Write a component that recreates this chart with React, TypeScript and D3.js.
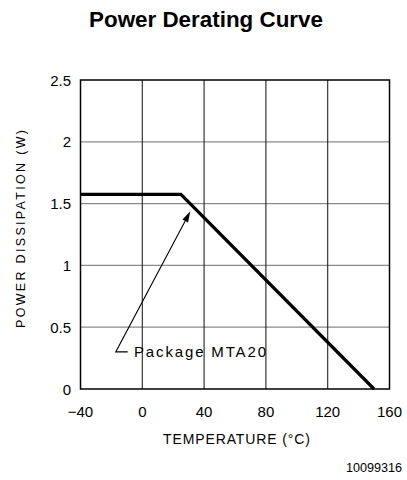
import React from "react";
import * as d3 from "d3";

const xTicks = [-40, 0, 40, 80, 120, 160];
const yTicks = [0, 0.5, 1, 1.5, 2, 2.5];
const yTickLabels = ["0", "0.5", "1", "1.5", "2", "2.5"];
const xTickLabels = ["\u221240", "0", "40", "80", "120", "160"];
const curveTemp = [-40, 25, 150];
const curvePower = [1.575, 1.575, 0];
const annotationText = "Package MTA20";
const arrowFrom = { t: -17.2, p: 0.3 };
const arrowTo = { t: 31.1, p: 1.438 };

export default function App() {
  const W = 407, H = 480;
  const x = d3.scaleLinear().domain([-40, 160]).range([80.5, 389.5]);
  const y = d3.scaleLinear().domain([0, 2.5]).range([389, 80]);
  const pts: [number, number][] = curveTemp.map((t, i) => [x(t), y(curvePower[i])]);
  const line = d3.line();

  const ax = x(arrowFrom.t), ay = y(arrowFrom.p);
  const bx = x(arrowTo.t), by = y(arrowTo.p);
  const ang = Math.atan2(by - ay, bx - ax);
  const hl = 11, hw = 3.2;
  const hx = bx - hl * Math.cos(ang), hy = by - hl * Math.sin(ang);
  const head = `M${bx},${by} L${hx + hw * Math.sin(ang)},${hy - hw * Math.cos(ang)} L${hx - hw * Math.sin(ang)},${hy + hw * Math.cos(ang)} Z`;

  const tickFont = "Liberation Sans, Arial, sans-serif";

  return (
    <svg width={W} height={H} style={{ position: "absolute", left: 0, top: 0, background: "#fff" }}>
      <text x={206} y={27} textAnchor="middle" fontFamily="Liberation Sans, Arial, sans-serif" fontWeight="bold" fontSize={22.4} fill="#000">
        Power Derating Curve
      </text>
      {yTicks.slice(1, -1).map((v) => (
        <line key={"h" + v} x1={x(-40)} x2={x(160)} y1={y(v)} y2={y(v)} stroke="#8a8a8a" strokeWidth={1.2} />
      ))}
      {xTicks.slice(1, -1).map((v) => (
        <line key={"v" + v} x1={x(v)} x2={x(v)} y1={y(0)} y2={y(2.5)} stroke="#222" strokeWidth={1.1} />
      ))}
      <rect x={x(-40)} y={y(2.5)} width={x(160) - x(-40)} height={y(0) - y(2.5)} fill="none" stroke="#000" strokeWidth={1.5} />
      <path d={line(pts) || ""} fill="none" stroke="#000" strokeWidth={3.2} strokeLinejoin="miter" />
      {yTicks.map((v, i) => (
        <text key={"yl" + v} x={71} y={y(v) + 5.5} textAnchor="end" fontFamily={tickFont} fontSize={15} fill="#000">
          {yTickLabels[i]}
        </text>
      ))}
      {xTicks.map((v, i) => (
        <text key={"xl" + v} x={x(v)} y={417} textAnchor="middle" fontFamily={tickFont} fontSize={15} fill="#000">
          {xTickLabels[i]}
        </text>
      ))}
      <path d={`M${ax + 12},${ay} L${ax},${ay} L${hx},${hy}`} fill="none" stroke="#000" strokeWidth={1.1} />
      <path d={head} fill="#000" />
      <text x={134} y={357} fontFamily={tickFont} fontSize={15} textLength={132} lengthAdjust="spacing" fill="#000">
        {annotationText}
      </text>
      <text x={163} y={444} fontFamily={tickFont} fontSize={14} textLength={147} lengthAdjust="spacing" fill="#000">
        TEMPERATURE (°C)
      </text>
      <text transform="translate(24.5,328) rotate(-90)" x={0} y={0} fontFamily={tickFont} fontSize={12.5} textLength={198} lengthAdjust="spacing" fill="#000">
        POWER DISSIPATION (W)
      </text>
      <text x={402} y={472} textAnchor="end" fontFamily={tickFont} fontSize={12.6} fill="#000">
        10099316
      </text>
    </svg>
  );
}
